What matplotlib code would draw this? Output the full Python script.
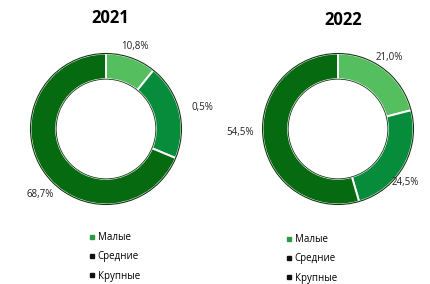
import matplotlib.pyplot as plt
from matplotlib.lines import Line2D
from matplotlib.patches import Circle

plt.rcParams['font.family'] = ['Open Sans', 'DejaVu Sans']

# data
categories = ['Малые', 'Средние', 'Крупные']
years = ['2021', '2022']
shares_2021 = [10.8, 20.5, 68.7]
shares_2022 = [21.0, 24.5, 54.5]
labels_2021 = ['10,8%', '0,5%', '68,7%']
labels_2022 = ['21,0%', '24,5%', '54,5%']

colors = ['#55bf5f', '#078c3c', '#056a10']
legend_colors = ['#2e9a3e', '#111111', '#111111']

W, H = 430, 284
fig = plt.figure(figsize=(W / 100, H / 100), dpi=100)


def px(x, y):
    return x / W, 1 - y / H


def donut(cx, cy, r, shares, labels, label_pos, title, title_pos, leg_pos):
    ax = fig.add_axes([(cx - r) / W, (H - cy - r) / H, 2 * r / W, 2 * r / H])
    ring = 0.34
    ax.pie(shares, colors=colors, startangle=90, counterclock=False,
           radius=1, wedgeprops=dict(width=ring, edgecolor='white', linewidth=1.4))
    ax.add_patch(Circle((0, 0), 1.0, fill=False, edgecolor='#123812', lw=0.8))
    ax.add_patch(Circle((0, 0), 1 - ring, fill=False, edgecolor='#123812', lw=0.6))
    ax.set_xlim(-1.02, 1.02)
    ax.set_ylim(-1.02, 1.02)
    ax.set_aspect('equal')
    ax.axis('off')
    for lab, (x, y) in zip(labels, label_pos):
        fig.text(*px(x, y), lab, fontsize=7, ha='center', va='center', color='#222222')
    fig.text(*px(*title_pos), title, fontsize=12, fontweight='bold', ha='center', va='center')
    handles = [Line2D([], [], marker='s', ls='', color=c, markersize=3) for c in legend_colors]
    fig.legend(handles, categories, loc='upper left', bbox_to_anchor=px(*leg_pos),
               frameon=False, fontsize=7, handlelength=0.6, handletextpad=0.3,
               labelspacing=0.85, borderpad=0, borderaxespad=0)


donut(106, 129, 77, shares_2021, labels_2021,
      [(135, 46), (202, 108), (40, 194)], years[0], (110, 18), (89, 232))
donut(338, 129, 77, shares_2022, labels_2022,
      [(389, 57), (405, 183), (240, 132)], years[1], (343, 20), (286, 234))

fig.savefig('out.png', dpi=100)
